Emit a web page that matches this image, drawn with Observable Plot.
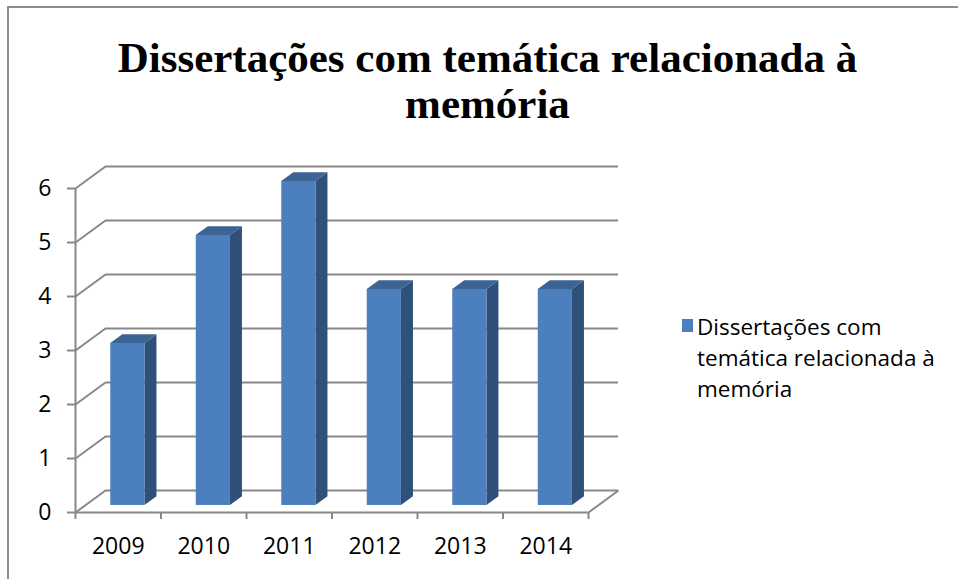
<!DOCTYPE html>
<html>
<head>
<meta charset="utf-8">
<script src="https://cdn.jsdelivr.net/npm/d3@7"></script>
<script src="https://cdn.jsdelivr.net/npm/@observablehq/plot@0.6"></script>
<style>
  html, body { margin: 0; padding: 0; background: #fff; }
  #wrap { position: relative; width: 958px; height: 579px; overflow: hidden; background: #fff; }
  #frame { position: absolute; left: 7px; top: 6px; right: 0; bottom: 0; border-left: 2px solid #8c8c8c; border-top: 2px solid #8c8c8c; }
  #title { position: absolute; left: 0; top: 35px; width: 975px; text-align: center; font-family: "Liberation Serif", "Times New Roman", serif; font-weight: bold; font-size: 43px; line-height: 46px; color: #000; white-space: nowrap; }
  #chart { position: absolute; left: 0; top: 0; }
  #legend { position: absolute; left: 682px; top: 311px; font-family: "Open Sans", sans-serif; font-size: 22.5px; line-height: 31px; color: #000; }
  #legend .sw { position: absolute; left: 0; top: 8px; width: 11px; height: 13px; background: #4B7FBE; }
  #legend .tx { position: absolute; left: 15px; top: 0; white-space: nowrap; }
</style>
</head>
<body>
<div id="wrap">
  <div id="frame"></div>
  <div id="chart"></div>
  <div id="title"></div>
  <div id="legend"></div>
</div>
<script>
// ---- data ----
const titleLines = ["Dissertações com temática relacionada à", "memória"];
const seriesName = "Dissertações com temática relacionada à memória";
const legendLines = ["Dissertações com", "temática relacionada à", "memória"];
const years = ["2009", "2010", "2011", "2012", "2013", "2014"];
const values = [3, 5, 6, 4, 4, 4];
const yTicks = [0, 1, 2, 3, 4, 5, 6];

// ---- 3D depth styling (in scale units) ----
const DX = 30 / 85.5;   // horizontal depth of the box
const DY = 22 / 54;     // vertical depth of the box
const barFront = 0.32;  // where bar front face sits within depth
const barDepth = 0.4;   // bar thickness as fraction of depth
const barLeft = 0.3, barRight = 0.7;

const gray = "#888888";
const cFront = "#4B7FBE", cSide = "#2F5079", cTop = "#3B6393";

const n = years.length;
const bars = years.map((year, i) => ({ year, i, value: values[i] }));
const ox = barFront * DX, oy = barFront * DY;
const ex = barDepth * DX, ey = barDepth * DY;

const sideData = bars.flatMap(d => [
  { year: d.year, x: d.i + barRight + ox, y1: oy, y2: d.value + oy },
  { year: d.year, x: d.i + barRight + ox + ex, y1: oy + ey, y2: d.value + oy + ey }
]);
const topData = bars.flatMap(d => [
  { year: d.year, y: d.value + oy, x1: d.i + barLeft + ox, x2: d.i + barRight + ox },
  { year: d.year, y: d.value + oy + ey, x1: d.i + barLeft + ox + ex, x2: d.i + barRight + ox + ex }
]);
const boundaries = d3.range(n + 1);

const chart = Plot.plot({
  width: 958,
  height: 579,
  marginLeft: 75,
  marginRight: 370,
  marginTop: 188,
  marginBottom: 67,
  style: { fontFamily: "Open Sans, sans-serif", fontSize: "23px", background: "transparent", overflow: "visible" },
  x: { type: "linear", domain: [0, n], axis: null },
  y: { domain: [0, 6], axis: null },
  marks: [
    // back wall gridlines (and back floor edge)
    Plot.ruleY(yTicks, { y: d => d + DY, x1: DX, x2: n + DX, stroke: gray, strokeWidth: 2 }),
    // side wall diagonals
    Plot.link(yTicks, { x1: 0, y1: d => d, x2: DX, y2: d => d + DY, stroke: gray, strokeWidth: 2 }),
    // front floor edge and right floor edge
    Plot.ruleY([0], { x1: 0, x2: n, stroke: gray, strokeWidth: 2 }),
    Plot.link([n], { x1: d => d, y1: 0, x2: d => d + DX, y2: DY, stroke: gray, strokeWidth: 2 }),
    // y axis line, ticks and labels
    Plot.ruleX([0], { y1: 0, y2: 6, stroke: gray, strokeWidth: 2 }),
    Plot.axisY({ ticks: yTicks, tickFormat: d => String(d), tickSize: 8, tickPadding: 16, stroke: gray, strokeWidth: 2, fill: "black", fontSize: 23, label: null }),
    // x axis ticks at category boundaries
    Plot.axisX({ ticks: boundaries, tickSize: 7, tickFormat: () => "", stroke: gray, strokeWidth: 2, label: null }),
    // x labels at category centers
    Plot.text(bars, { x: d => d.i + 0.5, y: 0, dy: 34, text: "year", fill: "black", fontSize: 23 }),
    // bars: side, top, front
    Plot.areaY(sideData, { x: "x", y1: "y1", y2: "y2", z: "year", fill: cSide }),
    Plot.areaX(topData, { y: "y", x1: "x1", x2: "x2", z: "year", fill: cTop }),
    Plot.rectY(bars, { x1: d => d.i + barLeft + ox, x2: d => d.i + barRight + ox, y1: oy, y2: d => d.value + oy, fill: cFront, title: d => `${seriesName} ${d.year}: ${d.value}` })
  ]
});
document.getElementById("chart").appendChild(chart);

document.getElementById("title").innerHTML = titleLines.join("<br>");
const lg = document.getElementById("legend");
lg.innerHTML = `<div class="sw"></div><div class="tx">${legendLines.join("<br>")}</div>`;
</script>
</body>
</html>
